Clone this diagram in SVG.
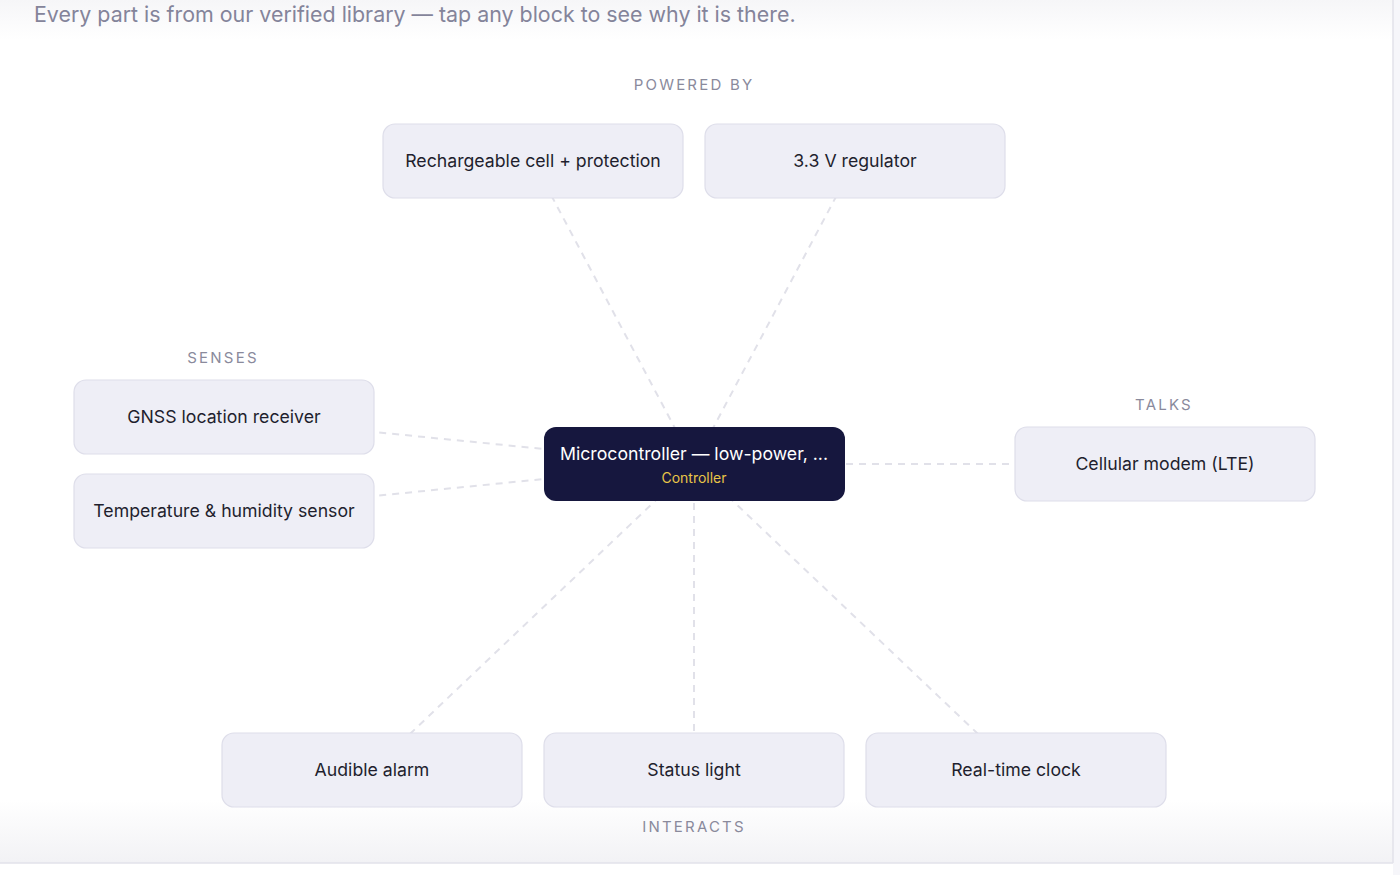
<svg xmlns="http://www.w3.org/2000/svg" width="1400" height="875" viewBox="0 0 1400 875">
<defs>
<linearGradient id="bot" x1="0" y1="0" x2="0" y2="1">
<stop offset="0" stop-color="#ffffff"/>
<stop offset="1" stop-color="#f2f2f5"/>
</linearGradient>
<linearGradient id="top" x1="0" y1="0" x2="0" y2="1">
<stop offset="0" stop-color="#f6f6f8"/>
<stop offset="1" stop-color="#ffffff"/>
</linearGradient>
</defs>
<style>
.node{fill:#eeeef6;stroke:#dedeea;stroke-width:1.2}
.lbl{font-family:Inter,"Liberation Sans",sans-serif;font-size:17.7px;fill:#1f1f2e;text-anchor:middle}
.sec{font-family:Inter,"Liberation Sans",sans-serif;font-size:15px;fill:#8a8a9c;text-anchor:middle;letter-spacing:2.2px}
.edge{stroke:#e1e1e9;stroke-width:2;stroke-dasharray:7 6;fill:none}
</style>
<rect x="0" y="0" width="1400" height="875" fill="#ffffff"/>
<rect x="0" y="0" width="1393" height="40" fill="url(#top)"/>
<rect x="0" y="800" width="1393" height="63" fill="url(#bot)"/>
<line x1="0" y1="863" x2="1393" y2="863" stroke="#e2e2ea" stroke-width="1.5"/>
<rect x="1393" y="0" width="7" height="875" fill="#f6f6fa"/>
<line x1="1393" y1="0" x2="1393" y2="863" stroke="#e2e2ea" stroke-width="1.5"/>
<text x="34" y="22" font-family="Inter,'Liberation Sans',sans-serif" font-size="21.4px" fill="#84849a">Every part is from our verified library — tap any block to see why it is there.</text>

<text class="sec" x="694" y="90">POWERED BY</text>
<text class="sec" x="223" y="363">SENSES</text>
<text class="sec" x="1164" y="410">TALKS</text>
<text class="sec" x="694" y="832">INTERACTS</text>

<g id="connectors">
<line class="edge" x1="533" y1="161" x2="694" y2="464"/>
<line class="edge" x1="855" y1="161" x2="694" y2="464"/>
<line class="edge" x1="224" y1="417" x2="694" y2="464"/>
<line class="edge" x1="224" y1="511" x2="694" y2="464"/>
<line class="edge" x1="1165" y1="464" x2="694" y2="464"/>
<line class="edge" x1="372" y1="770" x2="694" y2="464"/>
<line class="edge" x1="694" y1="770" x2="694" y2="464"/>
<line class="edge" x1="1016" y1="770" x2="694" y2="464"/>
</g>

<g id="n-cell"><rect class="node" x="383" y="124" width="300" height="74" rx="12"/><text class="lbl" x="533" y="167">Rechargeable cell + protection</text></g>
<g id="n-reg"><rect class="node" x="705" y="124" width="300" height="74" rx="12"/><text class="lbl" x="855" y="167">3.3 V regulator</text></g>
<g id="n-gnss"><rect class="node" x="74" y="380" width="300" height="74" rx="12"/><text class="lbl" x="224" y="423">GNSS location receiver</text></g>
<g id="n-temp"><rect class="node" x="74" y="474" width="300" height="74" rx="12"/><text class="lbl" x="224" y="517">Temperature &amp; humidity sensor</text></g>
<g id="n-mcu"><rect x="544" y="427" width="301" height="74" rx="12" fill="#16173e"/><text class="lbl" x="694" y="460" style="fill:#ffffff">Microcontroller — low-power, ...</text><text x="694" y="483" font-family="Inter,'Liberation Sans',sans-serif" font-size="14px" fill="#e9c547" text-anchor="middle">Controller</text></g>
<g id="n-lte"><rect class="node" x="1015" y="427" width="300" height="74" rx="12"/><text class="lbl" x="1165" y="470">Cellular modem (LTE)</text></g>
<g id="n-alarm"><rect class="node" x="222" y="733" width="300" height="74" rx="12"/><text class="lbl" x="372" y="776">Audible alarm</text></g>
<g id="n-led"><rect class="node" x="544" y="733" width="300" height="74" rx="12"/><text class="lbl" x="694" y="776">Status light</text></g>
<g id="n-rtc"><rect class="node" x="866" y="733" width="300" height="74" rx="12"/><text class="lbl" x="1016" y="776">Real-time clock</text></g>
</svg>
